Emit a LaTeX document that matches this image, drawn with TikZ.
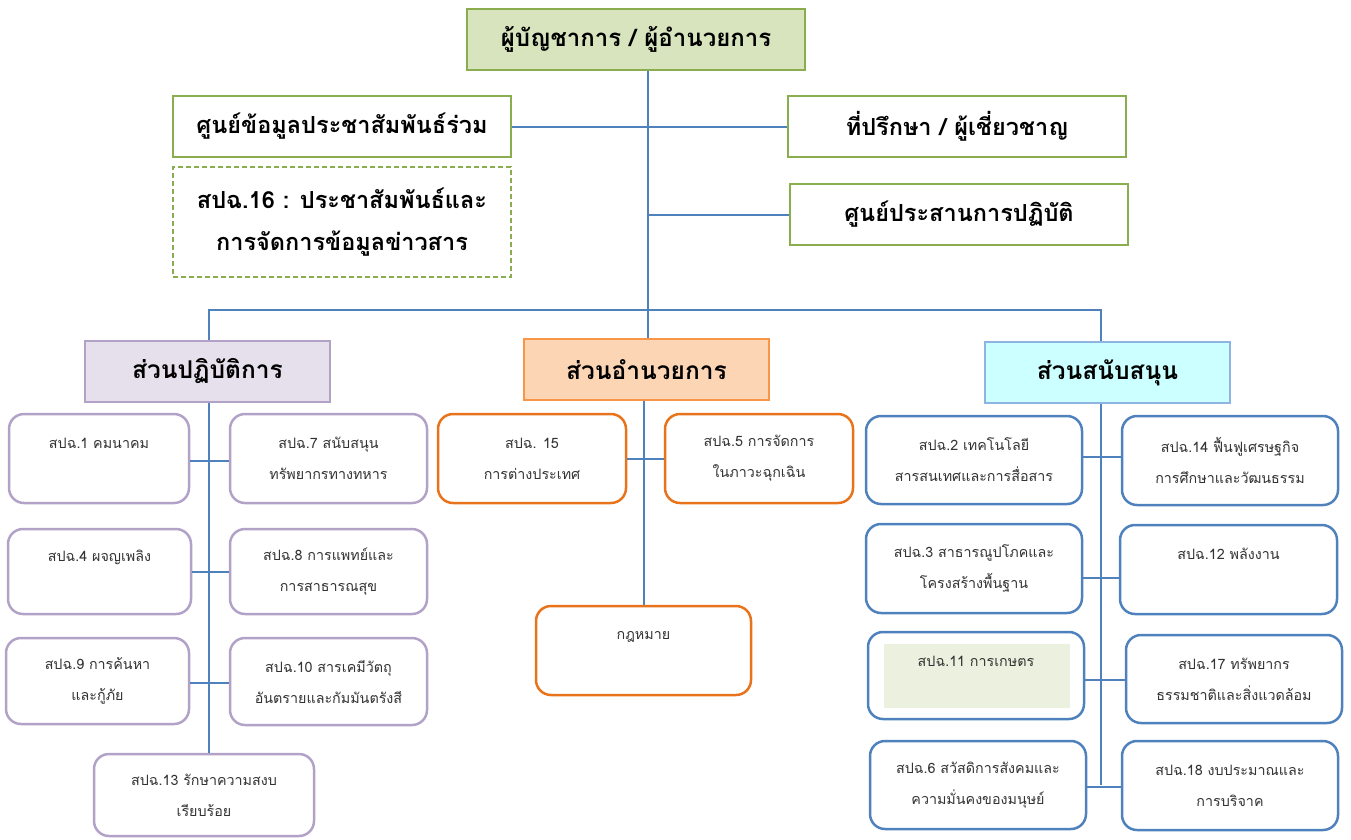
\documentclass[tikz,border=0pt]{standalone}
\usepackage{fontspec}
\newfontfamily\thaifont[Script=Thai]{Loma}
\definecolor{conn}{HTML}{4F81BD}
\definecolor{olive}{HTML}{8AAE4F}
\definecolor{topfill}{HTML}{D7E4BD}
\definecolor{purpb}{HTML}{B3A2C7}
\definecolor{purpf}{HTML}{E5E0EC}
\definecolor{orab}{HTML}{E8731A}
\definecolor{oraf}{HTML}{FCD5B5}
\definecolor{oraheadb}{HTML}{F79646}
\definecolor{cyanf}{HTML}{CCFFFF}
\definecolor{cyanb}{HTML}{8EB4E3}
\definecolor{blueb}{HTML}{4F81BD}
\definecolor{agrif}{HTML}{EBF1DE}
\definecolor{txt}{HTML}{333333}
\tikzset{
  conline/.style={draw=conn, line width=2pt},
  greenbox/.style={draw=olive, line width=1.5pt, fill=white, inner sep=0pt,
     font=\thaifont\bfseries\fontsize{23.5}{28}\selectfont},
  headbox/.style={draw, line width=1.5pt, inner sep=0pt,
     font=\thaifont\bfseries\fontsize{24.5}{28}\selectfont},
  unitbox/.style={draw, rounded corners=15pt, line width=2.5pt, fill=white, inner sep=0pt,
     align=center, text=txt, font=\thaifont\fontsize{14.3}{31}\selectfont},
  purpbox/.style={unitbox, draw=purpb},
  orabox/.style={unitbox, draw=orab},
  bluebox/.style={unitbox, draw=blueb},
}
\begin{document}
\begin{tikzpicture}[x=1pt,y=-1pt]
\useasboundingbox (0,0) rectangle (1351,839);
% top level
\node[headbox, draw=olive, fill=topfill, minimum width=338pt, minimum height=61pt,
  font=\thaifont\bfseries\fontsize{24}{28}\selectfont] (top) at (636,39.5) {ผู้บัญชาการ / ผู้อำนวยการ};
\node[greenbox, minimum width=338pt, minimum height=61pt] (pr) at (342,126.5) {ศูนย์ข้อมูลประชาสัมพันธ์ร่วม};
\node[greenbox, dash pattern=on 5pt off 3pt, draw=olive, minimum width=338pt, minimum height=110pt, align=center,
  font=\thaifont\bfseries\fontsize{23.5}{42}\selectfont] (s16) at (342,222) {สปฉ.16 : ประชาสัมพันธ์และ\\การจัดการข้อมูลข่าวสาร};
\node[greenbox, minimum width=338pt, minimum height=61pt] (adv) at (957,126.5) {ที่ปรึกษา / ผู้เชี่ยวชาญ};
\node[greenbox, minimum width=338pt, minimum height=61pt] (coord) at (959,214.5) {ศูนย์ประสานการปฏิบัติ};
% divisions
\node[headbox, draw=purpb, fill=purpf, minimum width=245pt, minimum height=61pt] (ops) at (207.5,371.5) {ส่วนปฏิบัติการ};
\node[headbox, draw=oraheadb, fill=oraf, minimum width=245pt, minimum height=61pt] (mid) at (646.5,369.5) {ส่วนอำนวยการ};
\node[headbox, draw=cyanb, fill=cyanf, minimum width=245pt, minimum height=61pt] (sup) at (1107.5,372.5) {ส่วนสนับสนุน};
% spine coordinates
\coordinate (mainx) at (648,0);
\coordinate (lx) at (209,310);
\coordinate (rx) at (1101,310);
\coordinate (mx) at (644,0);
% left units
\node[purpbox, minimum width=180pt, minimum height=89pt] (s1) at (99,458.5) {สปฉ.1 คมนาคม\\\mbox{}};
\node[purpbox, minimum width=197pt, minimum height=89pt] (s7) at (328.5,458.5) {สปฉ.7 สนับสนุน\\ทรัพยากรทางทหาร};
\node[purpbox, minimum width=183pt, minimum height=85pt] (s4) at (99.5,571.5) {สปฉ.4 ผจญเพลิง\\\mbox{}};
\node[purpbox, minimum width=197pt, minimum height=85pt] (s8) at (328.5,571.5) {สปฉ.8 การแพทย์และ\\การสาธารณสุข};
\node[purpbox, minimum width=183pt, minimum height=86pt] (s9) at (97.5,681) {สปฉ.9 การค้นหา\\และกู้ภัย};
\node[purpbox, minimum width=197pt, minimum height=87pt] (s10) at (328.5,681.5) {สปฉ.10 สารเคมีวัตถุ\\อันตรายและกัมมันตรังสี};
\node[purpbox, minimum width=220pt, minimum height=82pt] (s13) at (204,795) {สปฉ.13 รักษาความสงบ\\เรียบร้อย};
% middle units
\node[orabox, minimum width=188pt, minimum height=89pt] (s15) at (532,458.5) {สปฉ. 15\\การต่างประเทศ};
\node[orabox, minimum width=188pt, minimum height=89pt] (s5) at (759,458.5) {สปฉ.5 การจัดการ\\ในภาวะฉุกเฉิน};
\node[orabox, minimum width=215pt, minimum height=89pt] (law) at (643.5,650.5) {กฎหมาย\\\mbox{}};
% right units
\node[bluebox, minimum width=216pt, minimum height=88pt] (s2) at (974,460) {สปฉ.2 เทคโนโลยี\\สารสนเทศและการสื่อสาร};
\node[bluebox, minimum width=216pt, minimum height=89pt] (s14) at (1230,460.5) {สปฉ.14 ฟื้นฟูเศรษฐกิจ\\การศึกษาและวัฒนธรรม};
\node[bluebox, minimum width=216pt, minimum height=89pt] (s3) at (974,568.5) {สปฉ.3 สาธารณูปโภคและ\\โครงสร้างพื้นฐาน};
\node[bluebox, minimum width=217pt, minimum height=89pt] (s12) at (1228.5,569.5) {สปฉ.12 พลังงาน\\\mbox{}};
\node[bluebox, minimum width=216pt, minimum height=87pt] (s11) at (976,675.5) {};
\fill[agrif] (884,644) rectangle (1070,708);
\node[text=txt, font=\thaifont\fontsize{14.3}{31}\selectfont] (s11t) at (976,661) {สปฉ.11 การเกษตร};
\node[bluebox, minimum width=216pt, minimum height=88pt] (s17) at (1234,679) {สปฉ.17 ทรัพยากร\\ธรรมชาติและสิ่งแวดล้อม};
\node[bluebox, minimum width=216pt, minimum height=88pt] (s6) at (978,785) {สปฉ.6 สวัสดิการสังคมและ\\ความมั่นคงของมนุษย์};
\node[bluebox, minimum width=216pt, minimum height=89pt] (s18) at (1230,785.5) {สปฉ.18 งบประมาณและ\\การบริจาค};
% connectors top
\draw[conline] (top.south -| mainx) -- (mid.north -| mainx);
\draw[conline] (pr.east) -- (adv.west);
\draw[conline] (coord.west) -- (coord.west -| mainx);
\draw[conline] (ops.north -| lx) -- (lx) -- (rx) -- (sup.north -| rx);
% left column
\draw[conline] (ops.south -| lx) -- (s13.north -| lx);
\draw[conline] ([yshift=-2.5pt]s1.east) -- ([yshift=-2.5pt]s1.east -| s7.west);
\draw[conline] (s4.east) -- (s8.west);
\draw[conline] ([yshift=-2pt]s9.east) -- ([yshift=-2pt]s9.east -| s10.west);
% middle column
\draw[conline] (mid.south -| mx) -- (law.north -| mx);
\draw[conline] (s15.east) -- (s5.west);
% right column
\draw[conline] (sup.south -| rx) -- (s6.east -| rx);
\draw[conline] ([yshift=3.5pt]s2.east) -- ([yshift=3.5pt]s2.east -| s14.west);
\draw[conline] ([yshift=-9.5pt]s3.east) -- ([yshift=-9.5pt]s3.east -| s12.west);
\draw[conline] ([yshift=-4pt]s11.east) -- ([yshift=-4pt]s11.east -| s17.west);
\draw[conline] ([yshift=-2pt]s6.east) -- ([yshift=-2pt]s6.east -| s18.west);
\end{tikzpicture}
\end{document}
